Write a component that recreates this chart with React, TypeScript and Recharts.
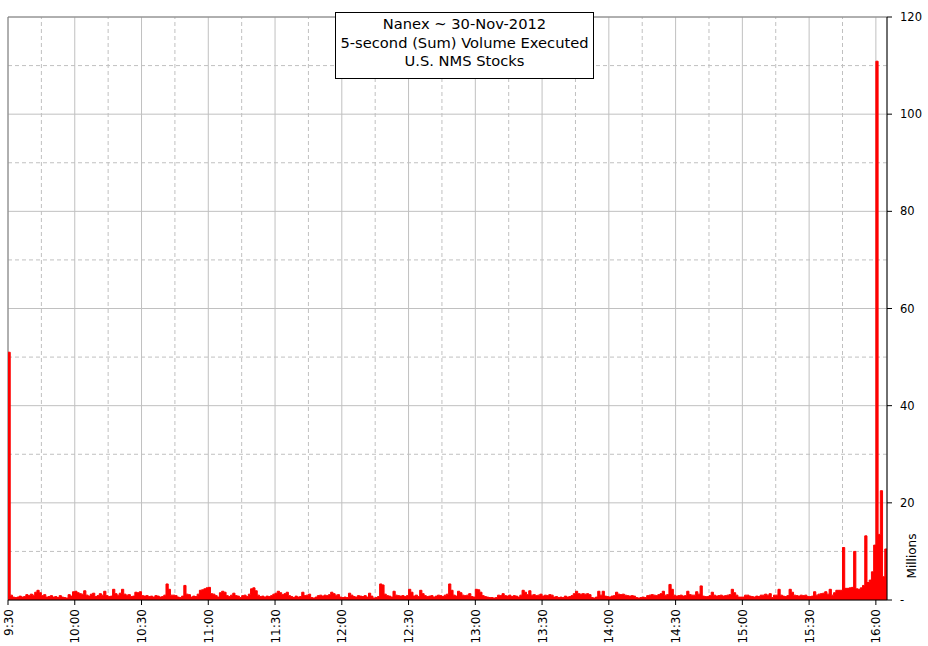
import React from 'react';
import {
  ComposedChart, Area, XAxis, YAxis, CartesianGrid, ReferenceLine,
} from 'recharts';

// 1-minute buckets (millions of shares), one array per half hour
const h0930 = [51, 1.0, 0.6, 0.5, 0.6, 0.8, 0.6, 0.7, 1.1, 0.9, 1.2, 1.0, 1.6, 2.0, 1.5, 0.9, 1.1, 0.6, 0.7, 0.9, 0.6, 0.7, 0.5, 0.9, 0.6, 0.5, 0.4, 1.1, 0.8, 1.7];
const h1000 = [1.8, 1.5, 1.3, 1.2, 1.9, 1.0, 0.8, 1.2, 1.4, 0.7, 0.9, 1.3, 1.0, 1.8, 0.9, 0.7, 0.8, 2.2, 1.3, 1.0, 1.4, 2.2, 1.2, 1.0, 1.1, 0.7, 0.8, 1.6, 1.5, 1.7];
const h1030 = [0.9, 0.8, 0.9, 0.7, 0.8, 0.6, 0.9, 0.8, 0.6, 0.7, 1.0, 3.3, 2.2, 1.0, 1.0, 0.9, 0.6, 0.5, 0.8, 3.0, 1.2, 1.1, 0.6, 0.8, 0.7, 1.2, 2.0, 2.1, 2.3, 2.5];
const h1100 = [2.6, 1.3, 1.2, 0.9, 0.6, 1.5, 1.8, 1.6, 0.9, 0.7, 1.0, 1.4, 0.9, 0.8, 0.5, 0.9, 1.0, 0.7, 1.2, 2.3, 2.5, 1.9, 1.0, 0.7, 0.8, 0.6, 0.8, 0.7, 0.9, 1.2];
const h1130 = [1.4, 1.8, 1.5, 1.1, 1.3, 1.6, 0.9, 0.7, 0.5, 0.8, 0.6, 0.7, 1.6, 0.9, 1.0, 1.2, 0.5, 0.4, 0.6, 0.9, 1.0, 0.8, 1.0, 0.9, 1.1, 1.6, 1.3, 1.0, 1.1, 0.6];
const h1200 = [0.5, 0.6, 0.5, 1.4, 1.0, 0.7, 0.6, 0.9, 0.8, 0.7, 0.9, 0.6, 1.4, 0.8, 0.4, 0.5, 0.7, 3.3, 3.1, 1.2, 0.9, 0.8, 0.6, 1.8, 1.0, 0.9, 0.8, 0.9, 0.7, 0.9];
const h1230 = [2.2, 1.6, 0.8, 1.0, 0.7, 2.0, 1.3, 0.9, 0.7, 0.8, 0.9, 0.6, 0.8, 1.0, 0.9, 0.7, 1.0, 1.2, 3.3, 2.0, 1.0, 0.8, 1.8, 1.5, 1.0, 0.9, 1.0, 1.3, 0.7, 0.6];
const h1300 = [2.2, 2.1, 1.6, 0.9, 0.7, 0.6, 0.5, 0.5, 0.4, 0.5, 1.0, 0.9, 1.3, 0.9, 0.8, 1.0, 0.7, 0.9, 0.8, 0.6, 1.0, 2.0, 1.6, 1.1, 1.9, 1.0, 1.1, 0.9, 1.0, 1.2];
const h1330 = [0.8, 1.0, 0.9, 1.1, 1.0, 0.6, 0.7, 0.5, 0.6, 0.5, 0.8, 0.6, 0.7, 0.9, 1.3, 1.8, 1.3, 1.2, 1.3, 1.2, 1.3, 1.1, 0.5, 0.4, 0.6, 1.8, 1.0, 1.8, 0.8, 0.7];
const h1400 = [0.6, 0.8, 0.9, 1.6, 1.2, 1.1, 1.2, 1.0, 0.9, 0.8, 0.9, 0.8, 0.5, 0.4, 0.5, 0.6, 0.5, 0.9, 1.0, 1.1, 1.0, 0.9, 1.1, 1.3, 1.8, 1.0, 1.1, 3.2, 2.2, 1.0];
const h1430 = [0.8, 0.9, 1.0, 0.8, 0.9, 1.8, 1.1, 1.0, 1.0, 1.7, 1.2, 2.9, 0.8, 0.7, 0.7, 0.9, 1.6, 1.0, 0.8, 0.9, 1.0, 0.8, 0.9, 1.0, 1.1, 2.2, 1.5, 1.0, 0.6, 0.6];
const h1500 = [0.6, 1.0, 1.0, 0.8, 0.7, 0.6, 0.8, 0.7, 1.0, 1.0, 1.2, 1.0, 1.3, 0.5, 1.0, 1.0, 2.2, 1.0, 0.8, 0.7, 0.9, 2.2, 1.6, 1.0, 0.9, 0.8, 1.0, 0.9, 1.0, 0.7];
const h1530 = [0.7, 0.8, 1.7, 1.0, 1.2, 1.3, 1.4, 1.7, 1.2, 2.2, 1.0, 1.5, 2.0, 2.0, 2.0, 10.8, 2.4, 2.4, 2.5, 2.6, 10.0, 2.3, 2.2, 2.5, 3.0, 13.2, 3.6, 4.1, 5.8, 11.3];
const h1600 = [110.9, 13.5, 22.5, 4.8, 10.5];

const TIME_LABELS = ['9:30', '10:00', '10:30', '11:00', '11:30', '12:00', '12:30', '13:00', '13:30', '14:00', '14:30', '15:00', '15:30', '16:00'];
const Y_TICKS = [0, 20, 40, 60, 80, 100, 120];
const Y_MINOR = [10, 30, 50, 70, 90, 110];

const volumes = [
  ...h0930, ...h1000, ...h1030, ...h1100, ...h1130, ...h1200, ...h1230,
  ...h1300, ...h1330, ...h1400, ...h1430, ...h1500, ...h1530, ...h1600,
];
const data = volumes.map((v, i) => ({ m: i, v }));
data.push({ m: volumes.length, v: volumes[volumes.length - 1] });

const X_TICKS = TIME_LABELS.map((_, i) => i * 30);
const X_MINOR = TIME_LABELS.slice(0, -1).map((_, i) => i * 30 + 15);

const FONT = '"DejaVu Sans", sans-serif';

const TimeTick = ({ x, y, payload }: any) => {
  const label = TIME_LABELS[Math.round(payload.value / 30)];
  const tx = x + 4.5;
  const ty = y + 2;
  return (
    <text x={tx} y={ty} transform={`rotate(-90, ${tx}, ${ty})`} textAnchor="end"
      fontFamily={FONT} fontSize={12} fill="#000">
      {label}
    </text>
  );
};

const MillionsLabel = ({ viewBox }: any) => {
  const x = viewBox.x + 29;
  const y = viewBox.y + viewBox.height - 44;
  return (
    <text x={x} y={y} transform={`rotate(-90, ${x}, ${y})`} textAnchor="middle"
      fontFamily={FONT} fontSize={12} fill="#000">
      Millions
    </text>
  );
};

export default function App() {
  return (
    <div style={{ position: 'absolute', left: 0, top: 0, width: 928, height: 646, background: '#fff', fontFamily: FONT }}>
      <ComposedChart width={928} height={646} data={data}
        margin={{ top: 17, right: 0, bottom: 0, left: 8 }}>
        <CartesianGrid stroke="#c0c0c0" strokeWidth={1} />
        {X_MINOR.map((m) => (
          <ReferenceLine key={`xm${m}`} x={m} stroke="#c0c0c0" strokeDasharray="4 3" zIndex={50} />
        ))}
        {Y_MINOR.map((v) => (
          <ReferenceLine key={`ym${v}`} y={v} stroke="#c0c0c0" strokeDasharray="4 3" zIndex={50} />
        ))}
        <ReferenceLine y={120} stroke="#808080" zIndex={50} />
        <ReferenceLine x={0} stroke="#808080" zIndex={50} />
        <XAxis
          dataKey="m" type="number" domain={[0, 395]} ticks={X_TICKS}
          allowDataOverflow height={46} interval={0}
          tickSize={5} tickMargin={2}
          axisLine={{ stroke: '#000' }} tickLine={{ stroke: '#000' }}
          tick={<TimeTick />}
        />
        <YAxis
          orientation="right" type="number" domain={[0, 120]} ticks={Y_TICKS}
          width={41} tickSize={5} tickMargin={8} interval={0}
          axisLine={{ stroke: '#000' }} tickLine={{ stroke: '#000' }}
          tick={{ fill: '#000', fontSize: 11.5, fontFamily: FONT }}
          tickFormatter={(v: number) => (v === 0 ? '-' : String(v))}
          label={<MillionsLabel />}
        />
        <Area
          type="stepAfter" dataKey="v" stroke="#ff0000" strokeWidth={1}
          fill="#ff0000" fillOpacity={1} isAnimationActive={false} dot={false}
          baseValue={0}
        />
      </ComposedChart>
      <div style={{
        position: 'absolute', left: 335, top: 12, width: 257, height: 63,
        border: '1px solid #000', background: '#fff', textAlign: 'center',
        fontSize: 14.7, lineHeight: '18.5px', paddingTop: 2, boxSizing: 'content-box',
        color: '#000', fontFamily: FONT, whiteSpace: 'nowrap',
      }}>
        <div>Nanex ~ 30-Nov-2012</div>
        <div>5-second (Sum) Volume Executed</div>
        <div>U.S. NMS Stocks</div>
      </div>
    </div>
  );
}
